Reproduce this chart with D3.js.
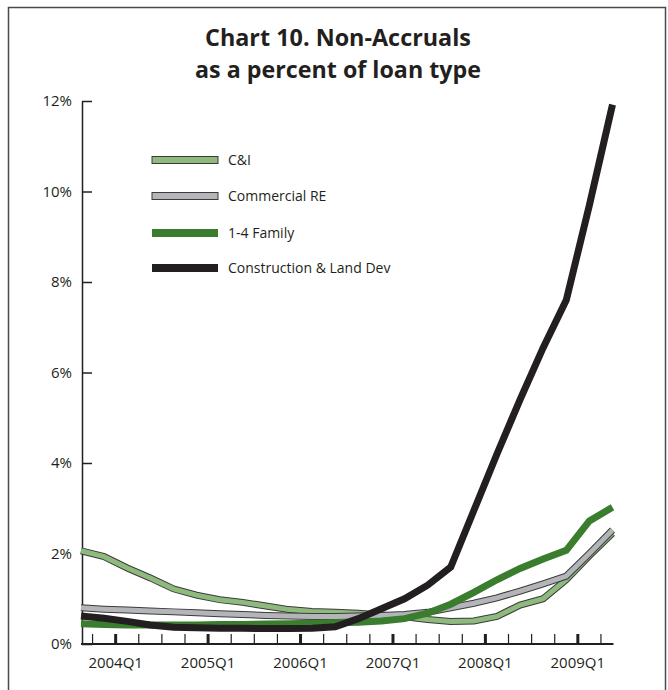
<!DOCTYPE html>
<html>
<head>
<meta charset="utf-8">
<script src="https://cdn.jsdelivr.net/npm/d3@7"></script>
<style>
  body { margin: 0; background: #fff; }
  svg { display: block; font-family: "Open Sans", "Noto Sans", sans-serif; }
</style>
</head>
<body>
<div id="chart"></div>
<script>
// Quarters shown on the chart (2003Q3 .. 2009Q2)
const quarters = ["2003Q3","2003Q4",
  "2004Q1","2004Q2","2004Q3","2004Q4",
  "2005Q1","2005Q2","2005Q3","2005Q4",
  "2006Q1","2006Q2","2006Q3","2006Q4",
  "2007Q1","2007Q2","2007Q3","2007Q4",
  "2008Q1","2008Q2","2008Q3","2008Q4",
  "2009Q1","2009Q2"];

// Non-accrual rates, percent of loan type
const cAndI = [2.06,1.93,1.68,1.46,1.22,1.08,0.98,0.92,0.84,0.76,0.72,0.70,
               0.68,0.64,0.60,0.54,0.50,0.51,0.61,0.86,1.00,1.42,1.95,2.45];
const commercialRE = [0.80,0.77,0.75,0.73,0.71,0.69,0.67,0.65,0.63,0.62,0.61,0.61,
                      0.62,0.63,0.65,0.70,0.80,0.90,1.02,1.17,1.33,1.50,2.00,2.52];
const family14 = [0.45,0.43,0.42,0.42,0.42,0.42,0.43,0.43,0.44,0.45,0.46,0.47,
                  0.48,0.51,0.56,0.68,0.88,1.14,1.42,1.67,1.88,2.07,2.72,3.02];
const construction = [0.62,0.57,0.50,0.42,0.37,0.36,0.35,0.35,0.34,0.34,0.35,0.38,
                      0.56,0.78,1.00,1.30,1.70,2.95,4.20,5.40,6.55,7.60,9.70,11.92];

const yTicks = [0, 2, 4, 6, 8, 10, 12];
const xLabels = ["2004Q1","2005Q1","2006Q1","2007Q1","2008Q1","2009Q1"];

const series = [
  {name: "C&I", values: cAndI, color: "#8fba7e", cased: true},
  {name: "Commercial RE", values: commercialRE, color: "#b4b5b8", cased: true},
  {name: "1-4 Family", values: family14, color: "#3a7d2e", cased: false},
  {name: "Construction & Land Dev", values: construction, color: "#231f20", cased: false}
];

const W = 668, H = 690;
const svg = d3.select("#chart").append("svg")
    .attr("width", W)
    .attr("height", H);

// Frame
svg.append("rect")
    .attr("x", 8.5).attr("y", 7.5)
    .attr("width", 657).attr("height", 700)
    .attr("fill", "none")
    .attr("stroke", "#4a4a4a")
    .attr("stroke-width", 1.5);

// Title
const titleLines = ["Chart 10. Non-Accruals", "as a percent of loan type"];
const titleWidths = [266, 286];
svg.append("g").selectAll("text")
    .data(titleLines)
    .join("text")
    .attr("x", 338)
    .attr("y", (d, i) => 46 + i * 32)
    .attr("text-anchor", "middle")
    .attr("font-weight", "bold")
    .attr("font-size", "23px")
    .attr("fill", "#231f20")
    .attr("textLength", (d, i) => titleWidths[i])
    .attr("lengthAdjust", "spacingAndGlyphs")
    .text(d => d);

// Scales
const x = d3.scalePoint()
    .domain(quarters)
    .range([81, 612.5]);
const y = d3.scaleLinear()
    .domain([0, 12])
    .range([644, 101]);
const step = x.step();

// Y axis
const yAxis = svg.append("g")
    .attr("transform", "translate(82,0)")
    .style("font-size", "15px")
    .call(d3.axisLeft(y).tickValues(yTicks).tickSize(-10).tickSizeOuter(0)
        .tickPadding(10).tickFormat(d => d + "%"));
yAxis.select(".domain").attr("stroke", "#231f20").attr("stroke-width", 1.5);
yAxis.selectAll(".tick line").attr("stroke", "#231f20").attr("stroke-width", 1.5);
yAxis.selectAll(".tick text").attr("fill", "#231f20").style("font-family", "'Open Sans', sans-serif");

// X axis: ticks sit between quarters, Q1 boundaries are heavier
const xAxis = svg.append("g");
xAxis.append("line")
    .attr("x1", 81).attr("x2", x(quarters[quarters.length - 1]) + 1)
    .attr("y1", y(0)).attr("y2", y(0))
    .attr("stroke", "#231f20").attr("stroke-width", 2);
xAxis.selectAll("line.tick")
    .data(quarters.slice(1))
    .join("line")
    .attr("class", "tick")
    .attr("x1", d => x(d) - step / 2)
    .attr("x2", d => x(d) - step / 2)
    .attr("y1", y(0))
    .attr("y2", y(0) - 10)
    .attr("stroke", "#231f20")
    .attr("stroke-width", d => d.endsWith("Q1") ? 3 : 1.2);
xAxis.selectAll("text")
    .data(xLabels)
    .join("text")
    .attr("x", d => x(d) - step / 2)
    .attr("y", 668)
    .attr("text-anchor", "middle")
    .attr("font-size", "15px")
    .attr("fill", "#231f20")
    .text(d => d);

// Lines
const line = d3.line()
    .x((d, i) => x(quarters[i]))
    .y(d => y(d));

const lines = svg.append("g");
series.forEach(s => {
  if (s.cased) {
    lines.append("path")
        .attr("d", line(s.values))
        .attr("fill", "none")
        .attr("stroke", "#3b3b3b")
        .attr("stroke-width", 7)
        .attr("stroke-linejoin", "miter");
    lines.append("path")
        .attr("d", line(s.values))
        .attr("fill", "none")
        .attr("stroke", s.color)
        .attr("stroke-width", 5)
        .attr("stroke-linejoin", "miter");
  } else {
    lines.append("path")
        .attr("d", line(s.values))
        .attr("fill", "none")
        .attr("stroke", s.color)
        .attr("stroke-width", 7)
        .attr("stroke-linejoin", "miter");
  }
});

// Legend
const legendY = [160, 196, 233, 268];
const legend = svg.append("g");
series.forEach((s, i) => {
  const g = legend.append("g").attr("transform", `translate(0,${legendY[i]})`);
  if (s.cased) {
    g.append("rect").attr("x", 152).attr("y", -3.5).attr("width", 66).attr("height", 7)
        .attr("fill", s.color).attr("stroke", "#3b3b3b").attr("stroke-width", 1);
  } else {
    g.append("rect").attr("x", 152).attr("y", -4).attr("width", 66).attr("height", 8)
        .attr("fill", s.color);
  }
  g.append("text")
      .attr("x", 228)
      .attr("y", 5)
      .attr("font-size", "14px")
      .attr("fill", "#231f20")
      .text(s.name);
});
</script>
</body>
</html>
